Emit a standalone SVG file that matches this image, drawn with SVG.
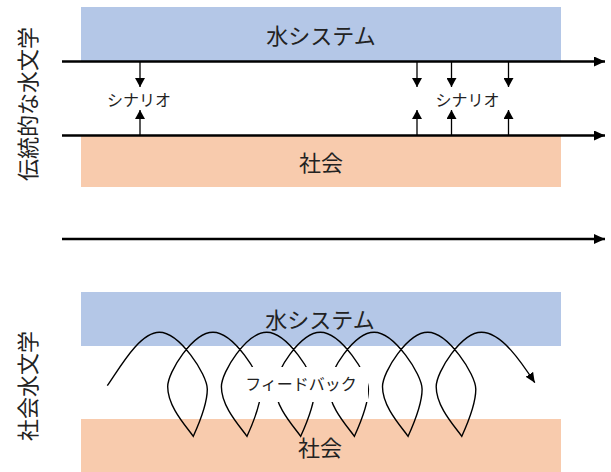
<svg xmlns="http://www.w3.org/2000/svg" width="611" height="472" viewBox="0 0 611 472">
  <defs>
    <style>
      .water { fill: #B4C7E7; }
      .society { fill: #F8CBAD; }
      .label { font-family: "Noto Sans CJK JP", "Noto Sans", sans-serif; fill: #222; text-anchor: middle; dominant-baseline: central; }
      .big { font-size: 22px; }
      .small { font-size: 16px; }
      .axis { stroke: #000; stroke-width: 2.6; fill: none; marker-end: url(#headBig); }
      .flow { stroke: #000; stroke-width: 1.3; fill: none; marker-end: url(#headSmall); }
      .coil { stroke: #000; stroke-width: 1.4; fill: none; marker-end: url(#headCoil); }
    </style>
    <marker id="headBig" markerUnits="userSpaceOnUse" viewBox="0 0 11 10" markerWidth="11" markerHeight="10" refX="11" refY="5" orient="auto">
      <path d="M0,0 L11,5 L0,10 z" fill="#000"/>
    </marker>
    <marker id="headSmall" markerUnits="userSpaceOnUse" viewBox="0 0 9 10" markerWidth="9" markerHeight="10" refX="9" refY="5" orient="auto">
      <path d="M0,0 L9,5 L0,10 z" fill="#000"/>
    </marker>
    <marker id="headCoil" markerUnits="userSpaceOnUse" viewBox="0 0 10 9" markerWidth="10" markerHeight="9" refX="10" refY="4.5" orient="auto">
      <path d="M0,0 L10,4.5 L0,9 z" fill="#000"/>
    </marker>
  </defs>

  <!-- Traditional hydrology panel -->
  <g id="water-system-top">
    <rect class="water" x="81" y="7" width="480" height="54"/>
    <text class="label big" x="321" y="33.5">水システム</text>
  </g>
  <g id="society-top">
    <rect class="society" x="81" y="135" width="480" height="52"/>
    <text class="label big" x="321" y="161">社会</text>
  </g>
  <g id="scenario-left">
    <text class="label small" x="139" y="98.5">シナリオ</text>
  </g>
  <g id="scenario-right">
    <text class="label small" x="467.5" y="98.5">シナリオ</text>
  </g>
  <g id="label-traditional">
    <text class="label big" transform="translate(26,104) rotate(-90)">伝統的な水文学</text>
  </g>

  <!-- Socio-hydrology panel -->
  <g id="water-system-bottom">
    <rect class="water" x="81" y="292" width="480" height="54"/>
    <text class="label big" x="320" y="318">水システム</text>
  </g>
  <g id="society-bottom">
    <rect class="society" x="81" y="419" width="480" height="53"/>
    <text class="label big" x="320" y="446">社会</text>
  </g>
  <g id="label-socio">
    <text class="label big" transform="translate(26,386) rotate(-90)">社会水文学</text>
  </g>

  <g id="connectors">
    <!-- time axes -->
    <path class="axis" d="M62,61.5 H605"/>
    <path class="axis" d="M62,135.5 H605"/>
    <path class="axis" d="M62,239 H605"/>
    <!-- one-way scenario exchanges -->
    <path class="flow" d="M140,61 V87"/>
    <path class="flow" d="M140,135 V110"/>
    <path class="flow" d="M417,61 V87"/>
    <path class="flow" d="M417,135 V110"/>
    <path class="flow" d="M451.5,61 V87"/>
    <path class="flow" d="M451.5,135 V110"/>
    <path class="flow" d="M508.5,61 V87"/>
    <path class="flow" d="M508.5,135 V110"/>
    <!-- two-way feedback coil -->
    <path class="coil" d="M107.3,385.7 c 12,-17 32,-53.4 52,-53.4
      c 20,0 48,42 48,57 c 0,16 -9,36 -14,47 c -8,-11 -25.6,-30 -25.6,-49.6 c 0,-15 25.3,-54.4 45.3,-54.4
      c 20,0 48,42 48,57 c 0,16 -9,36 -14,47 c -8,-11 -25.6,-30 -25.6,-49.6 c 0,-15 25.3,-54.4 45.3,-54.4
      c 20,0 48,42 48,57 c 0,16 -9,36 -14,47 c -8,-11 -25.6,-30 -25.6,-49.6 c 0,-15 25.3,-54.4 45.3,-54.4
      c 20,0 48,42 48,57 c 0,16 -9,36 -14,47 c -8,-11 -25.6,-30 -25.6,-49.6 c 0,-15 25.3,-54.4 45.3,-54.4
      c 20,0 48,42 48,57 c 0,16 -9,36 -14,47 c -8,-11 -25.6,-30 -25.6,-49.6 c 0,-15 25.3,-54.4 45.3,-54.4
      c 20,0 48,42 48,57 c 0,16 -9,36 -14,47 c -8,-11 -25.6,-30 -25.6,-49.6 c 0,-15 25.3,-54.4 45.3,-54.4
      c 20,0 40,30 53.3,50.4"/>
  </g>

  <g id="feedback">
    <rect x="234" y="367" width="134" height="35" fill="#fff"/>
    <text class="label small" x="301" y="382.5">フィードバック</text>
  </g>
</svg>
